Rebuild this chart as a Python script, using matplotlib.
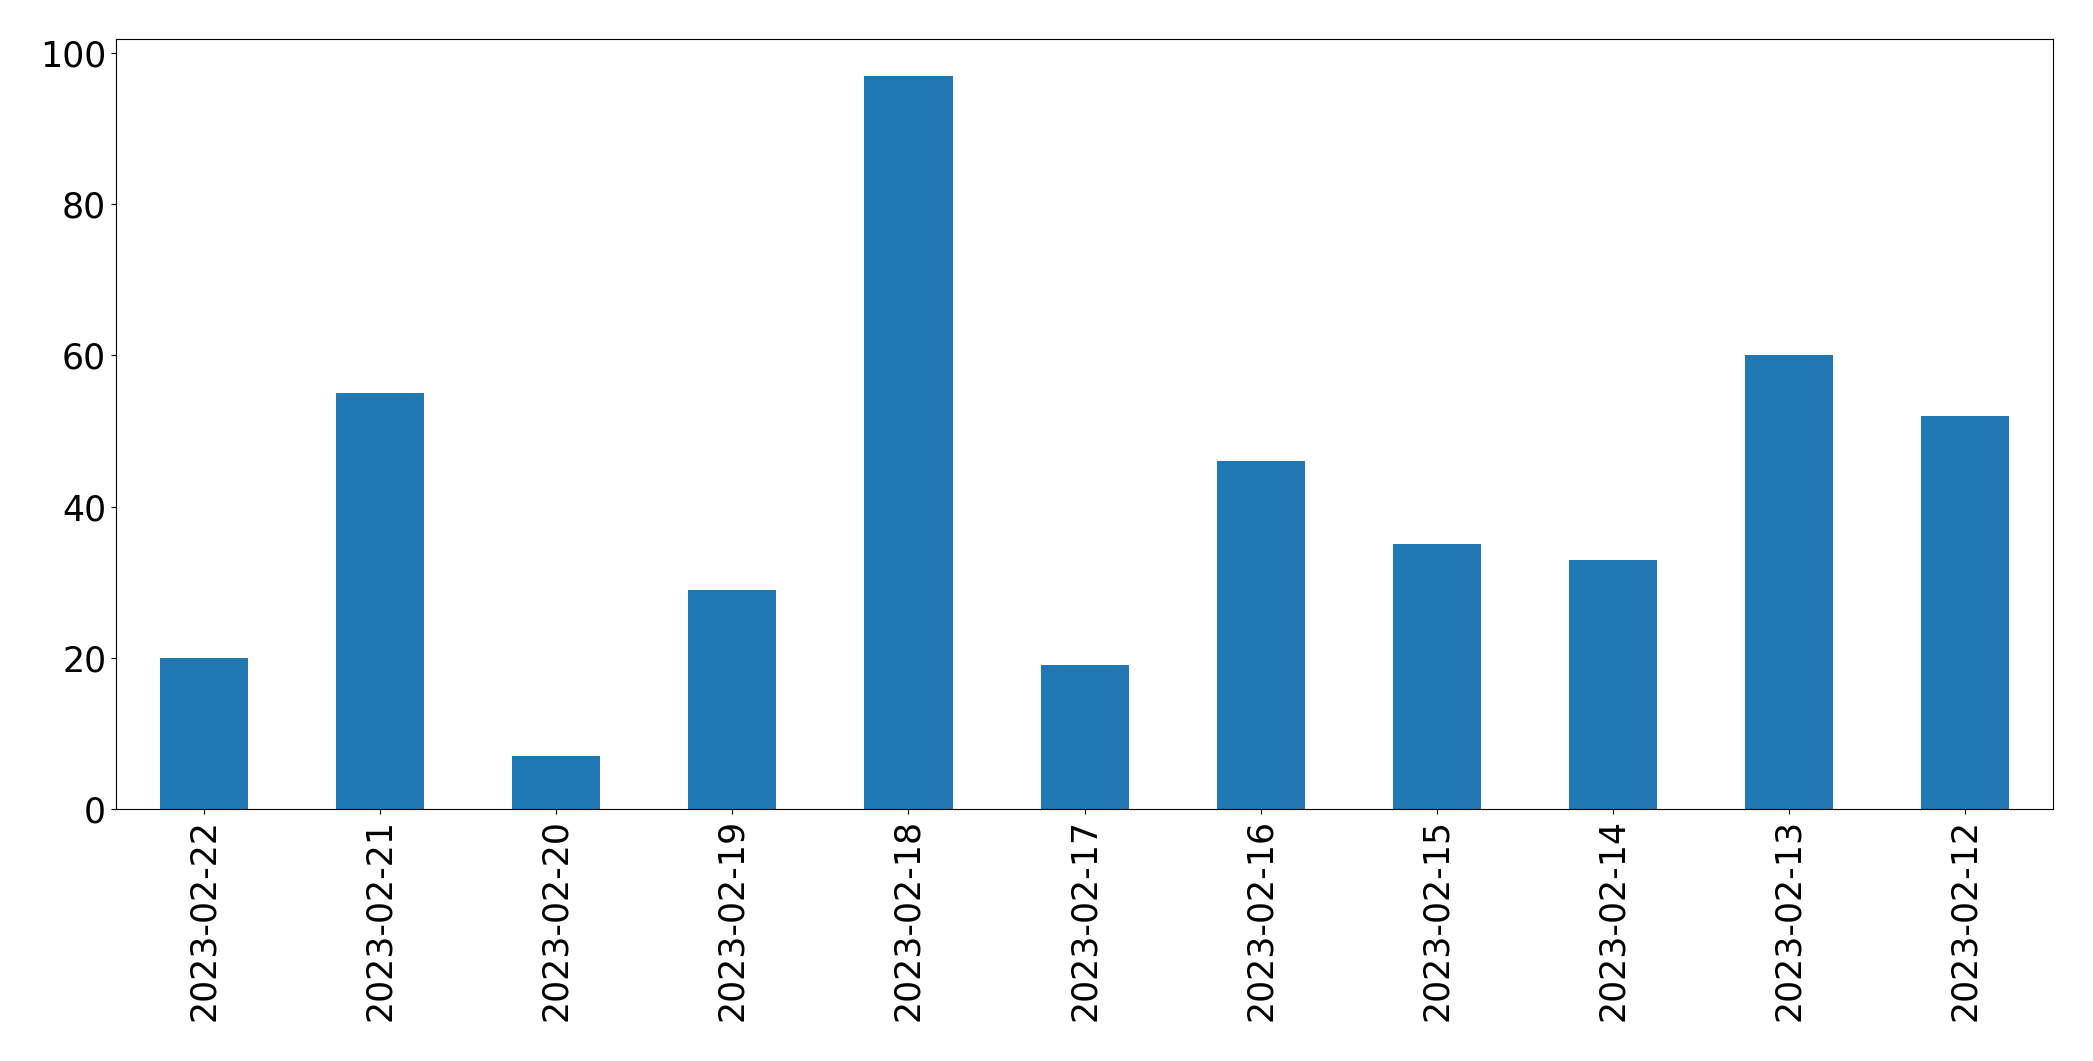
import matplotlib
matplotlib.use("Agg")
import matplotlib.pyplot as plt
import pandas as pd

# --- Données ---
dates = ["2023-02-22", "2023-02-21", "2023-02-20", "2023-02-19", "2023-02-18",
         "2023-02-17", "2023-02-16", "2023-02-15", "2023-02-14", "2023-02-13",
         "2023-02-12"]
counts = [20, 55, 7, 29, 97, 19, 46, 35, 33, 60, 52]

serie = pd.Series(counts, index=dates)

plt.rcParams['font.size'] = 25
fig, ax = plt.subplots(figsize=(20.93, 10.61), dpi=100)
serie.plot(kind="bar", ax=ax, color="#1f77b4")

ax.tick_params(axis="both", labelsize=25)
plt.subplots_adjust(left=0.0554, right=0.981, top=0.9632, bottom=0.2375)
fig.savefig("out.png", dpi=100)
